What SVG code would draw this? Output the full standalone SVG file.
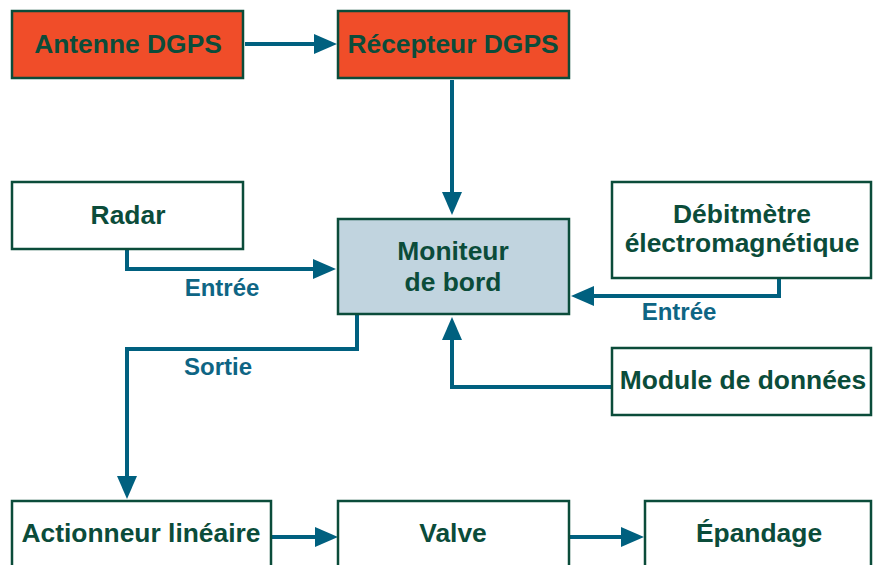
<svg xmlns="http://www.w3.org/2000/svg" width="875" height="565" viewBox="0 0 875 565">
<style>
.box{stroke:#0b4c3a;stroke-width:2.5;fill:#ffffff}
.red{fill:#f04d29}
.mon{fill:#c1d4df}
.t{font-family:"Liberation Sans",Arial,Helvetica,sans-serif;font-weight:bold;font-size:26.4px;fill:#0b4c3a;text-anchor:middle}
.lbl{font-family:"Liberation Sans",Arial,Helvetica,sans-serif;font-weight:bold;font-size:24px;fill:#0e6584;text-anchor:middle}
.c{fill:none;stroke:#00607f;stroke-width:4;marker-end:url(#ah)}
</style>
<defs>
<marker id="ah" viewBox="0 0 23 20" refX="13" refY="10" markerWidth="23" markerHeight="20" markerUnits="userSpaceOnUse" orient="auto">
<path d="M0,0 L23,10 L0,20 Z" fill="#00607f"/>
</marker>
</defs>
<rect width="875" height="565" fill="#ffffff"/>
<g id="connectors">
<path class="c" d="M245,44 H327"/>
<path class="c" d="M452,80 V205"/>
<path class="c" d="M127,250 V269 H326"/>
<path class="c" d="M779,279 V296 H581"/>
<path class="c" d="M612,387 H452 V327"/>
<path class="c" d="M357,315 V349 H127 V489"/>
<path class="c" d="M272,537 H328"/>
<path class="c" d="M570,537 H634"/>
</g>
<text class="lbl" x="222" y="296">Entrée</text>
<text class="lbl" x="679" y="320">Entrée</text>
<text class="lbl" x="218" y="375">Sortie</text>
<g id="antenne">
<rect class="box red" x="12" y="11" width="231" height="67"/>
<text class="t" x="128" y="53">Antenne DGPS</text>
</g>
<g id="recepteur">
<rect class="box red" x="338" y="11" width="231" height="67"/>
<text class="t" x="453" y="53">Récepteur DGPS</text>
</g>
<g id="radar">
<rect class="box" x="12" y="182" width="231" height="67"/>
<text class="t" x="128" y="224">Radar</text>
</g>
<g id="moniteur">
<rect class="box mon" x="338" y="219" width="231" height="95"/>
<text class="t" x="453" y="260">Moniteur</text>
<text class="t" x="453" y="291">de bord</text>
</g>
<g id="debitmetre">
<rect class="box" x="612" y="182" width="259" height="96"/>
<text class="t" x="742" y="223">Débitmètre</text>
<text class="t" x="742" y="252">électromagnétique</text>
</g>
<g id="module">
<rect class="box" x="612" y="348" width="259" height="67"/>
<text class="t" x="743" y="389">Module de données</text>
</g>
<g id="actionneur">
<rect class="box" x="12" y="501" width="259" height="80"/>
<text class="t" x="141" y="542">Actionneur linéaire</text>
</g>
<g id="valve">
<rect class="box" x="338" y="501" width="231" height="80"/>
<text class="t" x="453" y="542">Valve</text>
</g>
<g id="epandage">
<rect class="box" x="645" y="501" width="226" height="80"/>
<text class="t" x="759" y="542">Épandage</text>
</g>
</svg>
